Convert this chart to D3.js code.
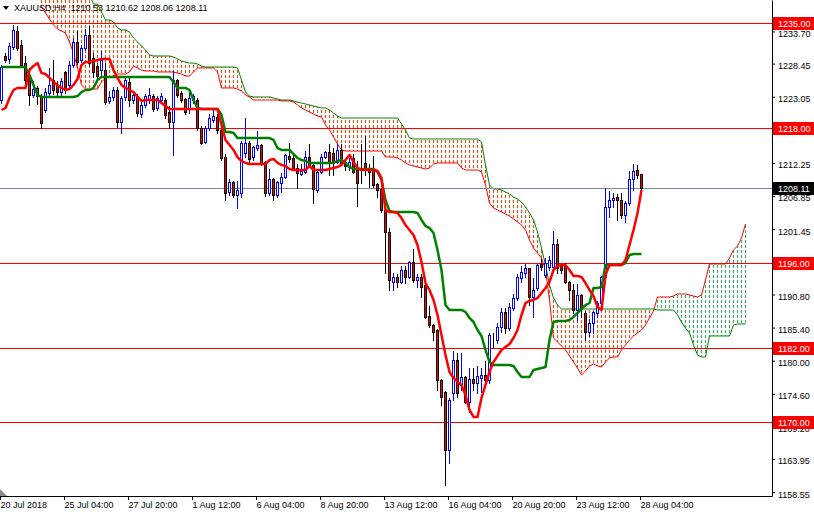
<!DOCTYPE html>
<html><head><meta charset="utf-8">
<script src="https://cdn.jsdelivr.net/npm/d3@7"></script>
<style>
html,body{margin:0;padding:0;background:#fff;}
svg{display:block;font-family:"Liberation Sans",Arial,sans-serif;}
</style></head><body>
<svg id="chart" width="814" height="514"></svg>
<script>
// ---------------- DATA ----------------
const symbolTitle = "XAUUSD,H4";
const lastOHLC = [1210.53, 1210.62, 1208.06, 1208.11];

const opens = [
1222.52,1229.70,1229.21,1231.16,1233.77,1231.49,1228.55,1226.11,1223.33,1224.48,
1223.01,1220.89,1223.66,1225.78,1224.97,1223.82,1227.09,1224.97,1228.23,1231.98,
1229.04,1231.00,1233.12,1229.37,1228.07,1227.41,1227.41,1222.36,1223.01,1224.15,
1218.93,1223.01,1225.46,1222.52,1223.17,1220.24,1221.71,1222.68,1223.17,1221.22,
1222.52,1222.52,1220.56,1218.93,1225.78,1223.66,1222.68,1221.22,1222.52,1222.52,
1217.95,1215.67,1217.95,1219.26,1219.75,1217.63,1213.22,1207.51,1209.14,1207.02,
1207.35,1213.88,1215.51,1213.22,1214.69,1215.18,1212.41,1207.35,1209.63,1207.02,
1208.98,1209.96,1213.39,1213.06,1211.43,1210.45,1210.78,1213.22,1211.92,1207.84,
1210.78,1213.22,1214.04,1213.88,1212.41,1214.37,1212.41,1211.59,1213.06,1211.10,
1212.10,1212.25,1211.43,1211.10,1208.82,1208.00,1204.58,1200.99,1192.84,1193.65,
1192.84,1194.79,1193.65,1196.10,1193.16,1193.65,1192.35,1187.29,1185.82,1185.01,
1176.85,1174.89,1165.43,1174.73,1180.12,1176.04,1177.34,1173.26,1177.01,1176.36,
1177.18,1177.67,1176.85,1183.38,1183.38,1185.50,1187.94,1185.33,1188.60,1190.23,
1193.49,1194.30,1195.12,1190.39,1191.86,1195.77,1193.98,1195.28,1195.28,1199.03,
1195.61,1195.61,1192.84,1191.53,1188.27,1190.72,1187.78,1184.68,1186.15,1187.78,
1189.41,1193.65,1205.07,1206.21,1206.70,1206.21,1203.76,1205.72,1209.63,1211.10,
1210.53];
const highs = [
1228.39,1230.35,1231.98,1234.90,1234.75,1232.47,1229.86,1227.90,1225.78,1224.97,
1223.66,1224.64,1227.90,1229.21,1225.78,1226.27,1227.41,1229.04,1232.80,1233.94,
1231.65,1234.26,1234.75,1230.35,1228.72,1230.68,1228.72,1224.15,1224.80,1224.80,
1223.33,1226.27,1226.60,1223.82,1223.66,1222.52,1223.66,1224.64,1223.66,1223.33,
1223.82,1223.01,1221.71,1227.41,1226.11,1224.15,1223.01,1224.15,1223.66,1223.01,
1218.44,1218.44,1220.40,1221.38,1220.40,1218.12,1213.88,1209.80,1209.47,1209.47,
1216.00,1219.75,1216.00,1215.18,1217.63,1215.51,1212.73,1211.43,1209.96,1209.47,
1210.78,1213.88,1215.67,1213.88,1212.25,1212.25,1214.37,1215.51,1212.25,1211.10,
1213.88,1214.37,1215.51,1214.85,1215.51,1215.51,1213.06,1213.22,1213.88,1212.73,
1215.51,1216.81,1212.25,1213.55,1209.14,1208.33,1204.91,1201.81,1194.47,1194.30,
1195.61,1195.61,1196.42,1198.38,1194.30,1194.30,1192.84,1189.08,1186.15,1185.33,
1177.18,1175.22,1174.08,1181.75,1181.42,1181.42,1177.67,1178.97,1178.97,1179.30,
1178.97,1180.12,1184.68,1184.68,1186.31,1188.76,1188.76,1189.57,1191.04,1194.30,
1195.61,1195.93,1195.28,1193.65,1195.93,1196.75,1196.91,1197.24,1201.32,1200.01,
1195.93,1196.10,1193.16,1192.67,1192.67,1191.04,1188.27,1186.97,1188.27,1189.90,
1193.98,1208.33,1207.84,1207.51,1207.35,1207.51,1206.21,1211.10,1212.25,1212.08,
1210.62];
const lows = [
1222.03,1228.72,1228.55,1230.84,1230.68,1227.90,1224.97,1221.71,1223.01,1221.87,
1217.95,1220.56,1223.17,1223.50,1223.33,1223.33,1223.66,1224.64,1227.90,1228.39,
1228.72,1230.68,1228.23,1226.27,1225.78,1226.60,1221.87,1222.03,1222.52,1218.12,
1217.14,1222.52,1221.54,1222.03,1219.91,1219.75,1221.38,1222.03,1220.73,1220.89,
1222.03,1219.58,1217.95,1213.55,1223.01,1222.19,1220.24,1220.40,1222.03,1217.63,
1215.34,1215.51,1217.63,1218.93,1217.14,1212.73,1206.21,1207.02,1206.70,1204.91,
1206.70,1213.22,1212.41,1212.73,1214.37,1211.92,1206.86,1207.02,1206.21,1206.70,
1207.51,1209.80,1212.41,1211.10,1208.17,1210.29,1210.61,1211.59,1205.72,1207.51,
1210.61,1213.06,1210.29,1210.29,1212.25,1211.92,1211.10,1211.10,1210.61,1205.23,
1208.98,1210.29,1208.33,1208.33,1206.70,1204.25,1194.30,1191.53,1191.53,1192.02,
1192.67,1192.67,1193.49,1192.84,1192.02,1190.39,1186.97,1185.50,1183.38,1175.22,
1172.77,1159.73,1163.31,1173.59,1174.08,1175.22,1173.10,1171.63,1175.22,1174.73,
1174.89,1176.36,1176.36,1182.23,1182.89,1184.68,1184.52,1185.01,1188.27,1189.90,
1192.84,1193.65,1189.08,1187.13,1191.53,1194.79,1193.65,1194.79,1195.12,1194.30,
1194.30,1192.67,1189.90,1187.78,1186.64,1187.13,1183.38,1184.03,1184.52,1187.13,
1188.76,1192.84,1203.44,1205.07,1202.95,1203.27,1202.62,1205.40,1207.84,1209.80,
1208.06];
const closes = [
1227.90,1229.04,1231.33,1233.94,1231.00,1228.23,1225.78,1223.33,1224.31,1223.17,
1218.77,1223.82,1224.97,1224.15,1223.82,1225.62,1224.15,1228.23,1231.98,1228.72,
1231.00,1233.12,1228.55,1227.09,1226.43,1229.04,1222.19,1223.01,1224.15,1218.93,
1222.85,1225.78,1222.52,1223.33,1220.40,1221.71,1223.17,1223.33,1221.05,1222.85,
1223.17,1220.07,1218.93,1225.78,1223.33,1222.52,1220.56,1222.85,1223.17,1217.95,
1215.51,1217.95,1219.58,1219.91,1217.63,1213.06,1207.35,1209.14,1207.02,1207.84,
1215.51,1215.51,1212.90,1214.85,1215.18,1212.25,1207.35,1209.63,1207.02,1209.14,
1209.96,1213.55,1212.90,1211.43,1210.61,1210.94,1213.22,1211.92,1208.00,1210.78,
1213.22,1214.04,1212.25,1212.25,1214.37,1212.25,1211.76,1212.41,1210.78,1208.98,
1212.10,1211.10,1210.78,1208.66,1207.84,1204.58,1200.99,1193.16,1193.65,1192.84,
1194.79,1193.65,1196.10,1193.16,1193.65,1192.02,1187.13,1185.82,1184.68,1176.85,
1174.08,1165.43,1173.59,1180.12,1174.73,1177.34,1173.26,1177.01,1176.36,1177.50,
1177.67,1176.85,1184.19,1183.38,1185.50,1187.94,1185.33,1188.76,1190.23,1193.65,
1194.47,1195.12,1190.39,1191.53,1195.61,1195.28,1195.93,1196.42,1199.03,1195.12,
1194.79,1192.84,1191.53,1188.27,1190.72,1188.60,1184.68,1186.15,1187.94,1189.41,
1193.65,1205.07,1206.21,1206.54,1206.21,1203.76,1205.72,1209.63,1210.94,1210.29,
1208.11];

// Ichimoku: Tenkan-sen (red) and Kijun-sen (green), one value per bar
const tenkan = [
1220.89,1221.22,1222.85,1224.15,1224.48,1224.48,1224.48,1227.41,1228.07,1228.55,
1226.92,1226.76,1226.11,1225.46,1224.97,1224.48,1224.15,1224.31,1224.97,1225.95,
1228.23,1228.72,1228.72,1228.88,1229.04,1229.21,1229.21,1229.21,1227.41,1226.11,
1224.97,1224.48,1224.15,1223.82,1223.01,1222.36,1222.52,1222.52,1222.52,1222.52,
1222.03,1221.54,1221.05,1221.05,1221.05,1221.05,1221.05,1221.05,1221.05,1221.05,
1221.05,1221.05,1221.05,1221.05,1221.05,1218.44,1216.00,1215.18,1214.37,1213.22,
1212.57,1212.25,1212.08,1212.08,1212.08,1212.08,1212.08,1212.73,1212.90,1212.25,
1211.92,1211.76,1211.27,1211.10,1211.10,1211.10,1211.10,1211.76,1211.10,1211.10,
1211.10,1211.10,1211.27,1211.43,1211.59,1211.92,1212.73,1213.55,1212.41,1211.43,
1211.10,1211.10,1211.10,1211.10,1210.94,1209.80,1204.58,1204.25,1204.25,1204.09,
1203.27,1202.13,1201.32,1200.50,1198.87,1196.10,1192.67,1191.53,1189.90,1187.45,
1184.19,1180.93,1178.16,1177.18,1176.53,1176.04,1174.41,1171.96,1170.82,1170.82,
1173.92,1176.04,1178.16,1179.79,1180.77,1181.75,1182.23,1182.72,1183.70,1185.01,
1187.45,1189.41,1189.74,1189.90,1190.23,1191.04,1191.86,1192.84,1194.79,1195.45,
1195.61,1195.61,1194.79,1193.81,1193.81,1193.65,1192.67,1191.53,1190.55,1188.76,
1188.27,1193.98,1195.61,1195.61,1195.61,1195.61,1196.42,1198.87,1201.32,1204.09,
1207.84];
const kijun = [
1227.90,1227.90,1227.90,1227.90,1227.90,1227.90,1227.90,1226.60,1224.97,1223.33,
1223.01,1223.01,1223.01,1223.01,1223.01,1223.01,1223.01,1223.01,1223.01,1223.17,
1223.82,1224.15,1224.15,1224.48,1225.78,1226.27,1226.27,1226.27,1226.27,1226.27,
1226.27,1226.27,1226.27,1226.27,1226.27,1226.27,1226.27,1226.27,1226.27,1226.27,
1226.27,1226.27,1226.27,1225.46,1224.48,1224.48,1224.48,1224.15,1222.52,1221.22,
1221.05,1221.05,1221.05,1221.05,1221.05,1220.07,1217.30,1217.30,1217.14,1216.32,
1216.32,1216.32,1216.32,1216.32,1216.32,1216.32,1216.32,1216.32,1216.00,1214.69,
1214.37,1214.37,1214.37,1213.71,1213.06,1212.73,1212.57,1212.25,1212.25,1212.25,
1212.25,1212.25,1212.25,1212.25,1212.57,1212.73,1212.25,1211.59,1211.27,1211.27,
1211.27,1211.27,1211.27,1211.27,1210.78,1209.47,1206.21,1204.42,1204.25,1204.25,
1204.25,1204.25,1204.25,1204.25,1204.09,1202.95,1201.97,1201.64,1200.83,1198.06,
1194.79,1189.08,1188.27,1188.27,1188.27,1188.27,1187.94,1186.97,1186.31,1185.01,
1184.03,1181.75,1179.79,1179.30,1179.30,1179.30,1179.30,1179.30,1179.13,1178.16,
1177.34,1177.34,1177.34,1178.48,1178.65,1178.81,1178.97,1183.38,1186.31,1186.48,
1186.48,1186.48,1186.64,1187.13,1187.78,1188.43,1189.08,1189.41,1191.86,1191.86,
1192.02,1195.61,1195.61,1195.61,1195.61,1195.61,1195.93,1197.24,1197.40,1197.40,
1197.40];

// Senkou spans (shifted 26 bars forward), first value belongs to bar spanStartBar
const spanStartBar = 10;
const spanA = [
1237.69,1236.71,1235.73,1234.75,1234.10,1233.77,1233.45,1231.98,1230.19,1227.74,
1224.97,1224.31,1224.31,1224.31,1224.31,1225.46,1226.11,1226.27,1226.43,1226.76,
1226.76,1226.76,1227.09,1228.07,1227.74,1227.41,1227.25,1227.25,1227.25,1227.09,
1227.09,1227.09,1227.09,1227.09,1226.92,1226.76,1226.43,1226.43,1227.09,1227.74,
1227.74,1227.74,1227.74,1227.74,1227.09,1224.48,1224.48,1224.48,1224.48,1224.31,
1223.99,1223.33,1223.01,1222.52,1222.52,1222.52,1222.52,1222.52,1222.52,1222.52,
1222.36,1222.36,1222.36,1222.19,1221.71,1221.22,1220.89,1220.56,1220.24,1219.91,
1219.75,1218.44,1217.63,1216.49,1215.34,1214.37,1214.20,1214.20,1214.20,1214.20,
1214.20,1214.20,1214.20,1214.20,1214.20,1214.20,1213.22,1213.22,1213.22,1213.06,
1212.73,1212.25,1211.92,1211.76,1211.59,1211.43,1211.27,1211.43,1212.08,1212.25,
1212.25,1212.25,1212.25,1212.25,1212.25,1211.43,1211.10,1211.10,1211.10,1211.10,
1210.78,1208.66,1205.72,1204.91,1204.58,1204.25,1203.93,1203.60,1203.11,1202.62,
1202.13,1201.32,1199.69,1198.38,1197.57,1196.75,1194.79,1189.90,1183.70,1183.05,
1182.40,1181.75,1180.77,1179.79,1178.81,1177.67,1178.32,1179.14,1179.46,1179.14,
1178.97,1179.79,1180.44,1180.60,1180.60,1181.75,1182.56,1183.38,1184.03,1184.52,
1185.01,1185.82,1186.97,1188.10,1190.39,1190.39,1190.39,1190.39,1190.55,1190.88,
1190.88,1190.88,1190.72,1190.55,1190.39,1190.72,1193.16,1195.77,1195.77,1195.77,
1195.77,1195.77,1196.75,1198.06,1198.71,1200.01,1202.30];
const spanB = [
1241.28,1241.28,1241.28,1241.28,1241.28,1241.28,1241.28,1241.28,1241.28,1241.28,
1241.28,1241.28,1239.65,1238.18,1238.18,1236.87,1235.57,1235.57,1235.24,1234.26,
1233.94,1233.94,1233.61,1232.63,1231.98,1231.33,1230.68,1229.86,1229.70,1229.70,
1229.70,1229.70,1229.70,1229.53,1229.21,1228.88,1228.72,1228.55,1228.55,1228.39,
1228.07,1227.90,1227.90,1227.90,1227.90,1227.90,1227.90,1227.90,1227.90,1227.74,
1225.78,1223.82,1223.17,1223.01,1223.01,1223.01,1223.01,1223.01,1222.85,1222.68,
1222.52,1222.52,1222.52,1222.36,1222.19,1222.03,1221.87,1221.71,1221.54,1221.38,
1221.22,1221.22,1220.89,1220.40,1219.91,1219.58,1219.58,1219.58,1219.58,1219.58,
1219.58,1219.58,1219.58,1219.58,1219.58,1219.58,1219.58,1219.58,1219.58,1219.58,
1218.61,1217.63,1216.32,1216.16,1216.16,1216.16,1216.16,1216.16,1216.16,1216.16,
1216.16,1216.16,1216.16,1216.16,1216.16,1216.16,1216.16,1216.16,1216.16,1216.16,
1215.67,1211.92,1208.66,1208.00,1208.00,1207.84,1207.51,1207.19,1206.70,1206.37,
1205.88,1205.07,1204.09,1202.95,1200.99,1198.38,1195.61,1192.35,1190.23,1189.08,
1188.43,1188.43,1188.43,1188.43,1188.43,1188.43,1188.43,1188.43,1188.43,1188.43,
1188.43,1188.43,1188.43,1188.43,1188.43,1188.43,1188.43,1188.43,1188.43,1188.43,
1188.43,1188.43,1188.43,1188.43,1188.27,1188.27,1188.27,1188.27,1188.27,1187.45,
1186.31,1185.33,1184.52,1182.56,1180.93,1180.60,1180.60,1184.03,1184.03,1184.03,
1184.03,1184.03,1184.03,1185.82,1185.99,1185.99,1185.99];

const levelPrices = [1235.00, 1218.00, 1196.00, 1182.00, 1170.00];
const bidPrice = 1208.11;
const priceTicks = [1233.70,1228.45,1223.05,1217.65,1212.25,1206.85,1201.45,1196.05,1190.80,1185.40,1180.00,1174.60,1169.20,1163.95,1158.55];
const timeTickBars = [0,16,32,48,64,80,96,112,128,144,160];
const timeTickLabels = ["20 Jul 2018","25 Jul 04:00","27 Jul 20:00","1 Aug 12:00","6 Aug 04:00","8 Aug 20:00","13 Aug 12:00","16 Aug 04:00","20 Aug 20:00","23 Aug 12:00","28 Aug 04:00"];

// ---------------- DRAWING ----------------
const W = 814, H = 514, plotW = 772, plotH = 496;
const FONT = "'Liberation Sans', Arial, sans-serif";
const svg = d3.select("#chart");
const x = d3.scaleLinear().domain([0, 193]).range([0, plotW]);
const y = d3.scaleLinear().domain([1157.93, 1238.83]).range([plotH, 0]);
const cx = i => x(i) + 1.5;
const sy = v => Math.round(y(v)) + 0.5;

const defs = svg.append("defs");
defs.append("clipPath").attr("id", "plot")
  .append("rect").attr("x", 0).attr("y", 0).attr("width", plotW).attr("height", plotH);

const g = svg.append("g").attr("clip-path", "url(#plot)");

// cloud hatch: vertical dashed strokes per bar between span A and span B
const cloud = spanA.map((a, k) => ({bar: spanStartBar + k, a: a, b: spanB[k]}));
const DASH = 3, GAP = 2;
const hatchG = g.append("g").attr("shape-rendering", "crispEdges");
hatchG.selectAll("g").data(cloud).join("g")
  .attr("fill", d => d.a < d.b ? "#ff4500" : "#2eb062")
  .each(function(d) {
    const top = Math.max(0, Math.round(Math.min(y(d.a), y(d.b))));
    const bot = Math.min(plotH, Math.round(Math.max(y(d.a), y(d.b))));
    const starts = d3.range(Math.floor(top / (DASH + GAP)) * (DASH + GAP), bot, DASH + GAP);
    d3.select(this).selectAll("rect").data(starts).join("rect")
      .attr("x", x(d.bar) + 1).attr("width", 1)
      .attr("y", s => Math.max(s, top))
      .attr("height", s => Math.max(0, Math.min(s + DASH, bot) - Math.max(s, top)));
  });

const spanLine = d3.line().x(d => cx(d.bar)).y(d => y(d.v));
g.append("path").datum(cloud.map(d => ({bar: d.bar, v: d.a})))
  .attr("d", spanLine).attr("fill", "none").attr("stroke", "#ff0000").attr("stroke-width", 1);
g.append("path").datum(cloud.map(d => ({bar: d.bar, v: d.b})))
  .attr("d", spanLine).attr("fill", "none").attr("stroke", "#008000").attr("stroke-width", 1);

// horizontal levels
g.append("g").selectAll("line").data(levelPrices).join("line")
  .attr("x1", 0).attr("x2", plotW).attr("y1", d => sy(d)).attr("y2", d => sy(d))
  .attr("stroke", "#ff0000").attr("stroke-width", 1).attr("shape-rendering", "crispEdges");
g.append("line").attr("x1", 0).attr("x2", plotW).attr("y1", sy(bidPrice)).attr("y2", sy(bidPrice))
  .attr("stroke", "#778899").attr("stroke-width", 1).attr("shape-rendering", "crispEdges");

// candles
const bars = opens.map((o, i) => ({i, o, h: highs[i], l: lows[i], c: closes[i]}));
const cg = g.append("g").attr("shape-rendering", "crispEdges");
const candle = cg.selectAll("g").data(bars).join("g");
candle.append("line")
  .attr("x1", d => cx(d.i)).attr("x2", d => cx(d.i))
  .attr("y1", d => sy(d.h)).attr("y2", d => sy(d.l))
  .attr("stroke", d => d.c > d.o ? "#0000ff" : "#000000").attr("stroke-width", 1);
candle.append("rect")
  .attr("x", d => x(d.i) + 0.5).attr("width", 2)
  .attr("y", d => sy(Math.max(d.o, d.c)))
  .attr("height", d => Math.max(0, sy(Math.min(d.o, d.c)) - sy(Math.max(d.o, d.c))))
  .attr("fill", d => d.c > d.o ? "#ffffff" : (d.c < d.o ? "#ff0000" : "#000000"))
  .attr("stroke", d => d.c > d.o ? "#0000ff" : "#000000").attr("stroke-width", 1);

// tenkan / kijun
const perBar = d3.line().x((d, i) => cx(i)).y(d => y(d));
g.append("path").datum(kijun).attr("d", perBar).attr("fill", "none")
  .attr("stroke", "#008000").attr("stroke-width", 2.5).attr("stroke-linejoin", "round");
g.append("path").datum(tenkan).attr("d", perBar).attr("fill", "none")
  .attr("stroke", "#ff0000").attr("stroke-width", 2.5).attr("stroke-linejoin", "round");

// axes
const yAxis = svg.append("g").attr("transform", `translate(${plotW},0)`)
  .call(d3.axisRight(y).tickValues(priceTicks).tickFormat(d3.format(".2f")).tickSize(3).tickSizeOuter(0));
yAxis.attr("font-family", FONT).attr("font-size", 9);
yAxis.selectAll(".tick text").attr("fill", "#000").attr("x", 6).attr("y", 2);
yAxis.select(".domain").attr("stroke", "#000");

const xAxis = svg.append("g").attr("transform", `translate(0,${plotH})`)
  .call(d3.axisBottom(x).tickValues(timeTickBars).tickFormat((d, k) => timeTickLabels[k]).tickSize(4).tickSizeOuter(0));
xAxis.attr("font-family", FONT).attr("font-size", 9);
xAxis.selectAll(".tick text").attr("fill", "#000").attr("text-anchor", "start").attr("x", 0).attr("y", 6);
xAxis.select(".domain").attr("stroke", "#000");

// price labels for levels
const fmt = d3.format(".2f");
const lab = svg.append("g").attr("font-family", FONT).attr("font-size", 9);
function priceLabel(p, bg) {
  const yy = Math.round(y(p));
  lab.append("rect").attr("x", plotW + 1).attr("y", yy - 6).attr("width", W - plotW - 1).attr("height", 13).attr("fill", bg);
  lab.append("text").attr("x", plotW + 6).attr("y", yy + 4).attr("fill", "#fff").text(fmt(p));
}
levelPrices.forEach(p => priceLabel(p, "#ff0000"));
priceLabel(bidPrice, "#000000");

// title
svg.append("path").attr("d", "M3,6 L9,6 L6,10 Z").attr("fill", "#000");
svg.append("text").attr("x", 14).attr("y", 11).attr("font-family", FONT).attr("font-size", 9).attr("fill", "#000")
  .attr("xml:space", "preserve")
  .text(symbolTitle + "  " + lastOHLC.map(fmt).join(" "));

// bottom-left shift marker
svg.append("path").attr("d", "M0,489 L7,496 L0,496 Z").attr("fill", "#8c8c8c");
</script>
</body></html>
